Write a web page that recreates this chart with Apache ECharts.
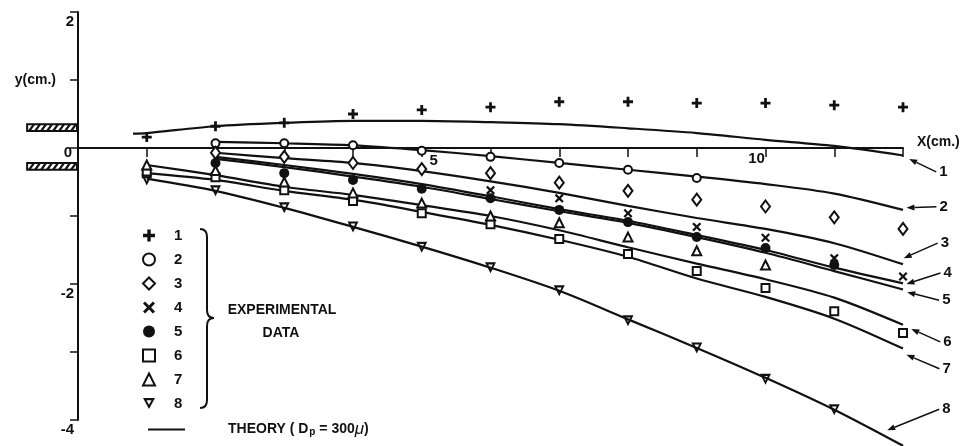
<!DOCTYPE html>
<html>
<head>
<meta charset="utf-8">
<script src="https://cdn.jsdelivr.net/npm/echarts@6/dist/echarts.min.js"></script>
<style>
  html, body { margin: 0; background: #fff; }
  #chart { width: 966px; height: 446px; }
</style>
</head>
<body>
<div id="chart"></div>
<script>
// x stations (cm) of the measured points
const xCm = [1, 2, 3, 4, 5, 6, 7, 8, 9, 10, 11, 12];
// experimental data, y (cm)
const exp1 = [0.16, 0.32, 0.37, 0.50, 0.56, 0.60, 0.68, 0.68, 0.66, 0.66, 0.63, 0.60];
const exp2 = [null, 0.07, 0.07, 0.04, -0.04, -0.13, -0.22, -0.32, -0.44, null, null, null];
const exp3 = [null, -0.07, -0.13, -0.22, -0.31, -0.37, -0.51, -0.63, -0.76, -0.86, -1.02, -1.19];
const exp4 = [null, null, null, null, null, -0.62, -0.74, -0.96, -1.16, -1.32, -1.62, -1.89];
const exp5 = [null, -0.22, -0.37, -0.47, -0.60, -0.74, -0.91, -1.09, -1.31, -1.47, -1.72, null];
const exp6 = [-0.37, -0.43, -0.62, -0.78, -0.96, -1.12, -1.34, -1.56, -1.81, -2.06, -2.40, -2.72];
const exp7 = [-0.25, -0.33, -0.50, -0.66, -0.81, -1.00, -1.10, -1.31, -1.51, -1.72, null, null];
const exp8 = [-0.47, -0.63, -0.88, -1.16, -1.46, -1.76, -2.10, -2.54, -2.94, -3.40, -3.85, null];

// theory curves (Dp = 300 micron)
const xTheory = [0.8, 1, 2, 3, 4, 5, 6, 7, 8, 9, 10, 11, 12];
const theory1 = [0.21, 0.22, 0.32, 0.37, 0.40, 0.40, 0.38, 0.35, 0.29, 0.22, 0.12, 0.03, -0.11];
const theory2 = [null, null, 0.09, 0.07, 0.04, -0.03, -0.12, -0.22, -0.32, -0.42, -0.53, -0.67, -0.91];
const theory3 = [null, null, -0.07, -0.15, -0.22, -0.34, -0.49, -0.66, -0.85, -1.03, -1.19, -1.40, -1.71];
const theory4 = [null, null, -0.13, -0.25, -0.38, -0.53, -0.71, -0.90, -1.07, -1.28, -1.50, -1.76, -1.99];
const theory5 = [null, null, -0.16, -0.28, -0.42, -0.57, -0.75, -0.93, -1.10, -1.31, -1.54, -1.81, -2.08];
const theory6 = [null, -0.25, -0.40, -0.57, -0.69, -0.84, -1.00, -1.21, -1.46, -1.70, -1.93, -2.20, -2.60];
const theory7 = [null, -0.37, -0.47, -0.63, -0.76, -0.94, -1.13, -1.35, -1.60, -1.92, -2.19, -2.51, -2.95];
const theory8 = [null, -0.45, -0.63, -0.88, -1.16, -1.45, -1.76, -2.10, -2.52, -2.94, -3.38, -3.85, -4.38];

const seriesNames = ['1', '2', '3', '4', '5', '6', '7', '8'];
const xTickLabels = [5, 10];

// curve labels on the right: arrow tip (cm) and tail offset (px)
const arrowTipX = [12.09, 12.05, 12.01, 12.05, 12.06, 12.12, 12.05, 11.77];
const arrowTipY = [-0.16, -0.88, -1.62, -2.00, -2.12, -2.66, -3.04, -4.15];
const arrowDx = [27, 30, 34, 34, 32, 29, 33, 52];
const arrowDy = [13, -1, -15, -11, 8, 13, 14, -21];

const INK = '#111';
const FONT = '"Liberation Sans", Arial, sans-serif';

const PLUS = 'path://M-1.4,-5 L1.4,-5 L1.4,-1.4 L5,-1.4 L5,1.4 L1.4,1.4 L1.4,5 L-1.4,5 L-1.4,1.4 L-5,1.4 L-5,-1.4 L-1.4,-1.4 Z';
const CROSS = 'path://M-4,-2.6 L-2.6,-4 L0,-1.4 L2.6,-4 L4,-2.6 L1.4,0 L4,2.6 L2.6,4 L0,1.4 L-2.6,4 L-4,2.6 L-1.4,0 Z';
// hollow downward triangle (inner contour wound the other way)
const DOWN_TRI = 'path://M-5,-4 L5,-4 L0,5 Z M-2.1,-2.2 L0,1.6 L2.1,-2.2 Z';

const expData = [exp1, exp2, exp3, exp4, exp5, exp6, exp7, exp8];
const theoryData = [theory1, theory2, theory3, theory4, theory5, theory6, theory7, theory8];
const symbols = [
  { symbol: PLUS, size: 10, border: 0 },
  { symbol: 'emptyCircle', size: 8, border: 2 },
  { symbol: 'emptyDiamond', size: [9, 12], border: 2 },
  { symbol: CROSS, size: 9, border: 0 },
  { symbol: 'circle', size: 10, border: 0 },
  { symbol: 'emptyRect', size: 8, border: 2 },
  { symbol: 'emptyTriangle', size: 9, border: 2 },
  { symbol: DOWN_TRI, size: 11, border: 0 }
];

function pairs(xs, ys) {
  return xs.map((x, i) => [x, ys[i]]).filter(p => p[1] !== null);
}

const series = [];
theoryData.forEach((ys) => {
  series.push({
    name: 'THEORY',
    type: 'line',
    data: pairs(xTheory, ys),
    smooth: 0.3,
    symbol: 'none',
    clip: false,
    lineStyle: { color: INK, width: 2.2 },
    itemStyle: { color: INK },
    silent: true,
    z: 2
  });
});
expData.forEach((ys, i) => {
  const s = symbols[i];
  series.push({
    name: seriesNames[i],
    type: 'scatter',
    data: pairs(xCm, ys),
    symbol: s.symbol,
    symbolSize: s.size,
    itemStyle: { color: INK, borderColor: INK, borderWidth: s.border, opacity: 1 },
    z: 5
  });
});

const chart = echarts.init(document.getElementById('chart'), null, { renderer: 'canvas' });

chart.setOption({
  animation: false,
  backgroundColor: '#fff',
  textStyle: { fontFamily: FONT },
  grid: { left: 78, right: 63, top: 12, bottom: 26, containLabel: false },
  xAxis: {
    type: 'value', min: 0, max: 12, interval: 1,
    axisLine: { onZero: true, lineStyle: { color: INK, width: 2 } },
    axisTick: { show: true, length: 9, lineStyle: { color: INK, width: 1.5 } },
    splitLine: { show: false },
    axisLabel: { show: false }
  },
  yAxis: {
    type: 'value', min: -4, max: 2, interval: 1,
    axisLine: { show: true, lineStyle: { color: INK, width: 2 } },
    axisTick: { show: true, length: 8, lineStyle: { color: INK, width: 1.5 } },
    splitLine: { show: false },
    axisLabel: {
      margin: 4, color: INK, fontSize: 15, fontWeight: 'bold', fontFamily: FONT,
      formatter: v => v === 1 ? '{n|y(cm.)}' : (v === 0 ? '{z|0}' : (v % 2 === 0 ? '{v|' + v + '}' : '')),
      rich: {
        v: { padding: [20, 0, 0, 0], fontSize: 15, fontWeight: 'bold', color: INK, fontFamily: FONT },
        z: { padding: [10, 2, 0, 0], fontSize: 15, fontWeight: 'bold', color: INK, fontFamily: FONT },
        n: { padding: [0, 18, 0, 0], fontSize: 14, fontWeight: 'bold', color: INK, fontFamily: FONT }
      }
    }
  },
  legend: [
    {
      data: seriesNames,
      orient: 'vertical',
      left: 137, top: 223,
      itemWidth: 12, itemHeight: 12, itemGap: 9,
      selectedMode: false,
      textStyle: { color: INK, fontSize: 15, fontWeight: 'bold', fontFamily: FONT, padding: [0, 0, 0, 14], lineHeight: 12 }
    },
    {
      data: [{ name: 'THEORY', icon: 'rect' }],
      orient: 'horizontal',
      left: 143, top: 416,
      itemWidth: 37, itemHeight: 2,
      selectedMode: false,
      formatter: () => '{a|THEORY ( D}{s|p}{a| = 300}{m|\u03bc}{a|)}',
      textStyle: {
        color: INK, padding: [0, 0, 0, 38],
        rich: {
          a: { fontSize: 14, fontWeight: 'bold', color: INK, fontFamily: FONT },
          s: { fontSize: 10, fontWeight: 'bold', color: INK, fontFamily: FONT, padding: [6, 0, 0, 1] },
          m: { fontSize: 17, fontStyle: 'italic', color: INK, fontFamily: FONT }
        }
      }
    }
  ],
  series: series
});

// annotations placed from axis coordinates
function px(x, y) { return chart.convertToPixel({ gridIndex: 0 }, [x, y]); }

const graphics = [];
const boldText = (x, y, text, size, align) => ({
  type: 'text', x: x, y: y, z: 10,
  style: { text: text, fill: INK, font: 'bold ' + size + 'px ' + FONT, textAlign: align || 'center', textVerticalAlign: 'middle' }
});

// x tick labels sit next to the zero line
const p5 = px(xTickLabels[0], 0), p10 = px(xTickLabels[1], 0);
graphics.push(boldText(p5[0] + 12, p5[1] + 13, String(xTickLabels[0]), 15));
graphics.push(boldText(p10[0] - 9, p10[1] + 11, String(xTickLabels[1]), 15));
const pEnd = px(12, 0);
graphics.push(boldText(pEnd[0] + 14, pEnd[1] - 6, 'X(cm.)', 14, 'left'));

// nozzle walls (hatched)
function wall(y0, y1) {
  const a = px(-0.74, y0), b = px(0, y1);
  const x0 = a[0], top = a[1], x1 = b[0] - 1, bot = b[1];
  graphics.push({ type: 'rect', shape: { x: x0, y: top, width: x1 - x0, height: bot - top },
    style: { fill: '#fff', stroke: INK, lineWidth: 2 }, z: 10 });
  for (let x = x0 + 2; x < x1 - 4; x += 6) {
    graphics.push({ type: 'line', shape: { x1: x, y1: bot, x2: x + 5, y2: top },
      style: { stroke: INK, lineWidth: 2.2 }, z: 10 });
  }
}
wall(0.35, 0.25);
wall(-0.22, -0.32);

// arrows to the curves
seriesNames.forEach((n, i) => {
  const tip = px(arrowTipX[i], arrowTipY[i]);
  const tail = [tip[0] + arrowDx[i], tip[1] + arrowDy[i]];
  const ang = Math.atan2(tip[1] - tail[1], tip[0] - tail[0]);
  const L = 8, W = 3;
  const bx = tip[0] - L * Math.cos(ang), by = tip[1] - L * Math.sin(ang);
  const nx = -Math.sin(ang) * W, ny = Math.cos(ang) * W;
  graphics.push({ type: 'line', shape: { x1: tail[0], y1: tail[1], x2: bx, y2: by },
    style: { stroke: INK, lineWidth: 1.5 }, z: 10 });
  graphics.push({ type: 'polygon', shape: { points: [tip, [bx + nx, by + ny], [bx - nx, by - ny]] },
    style: { fill: INK }, z: 10 });
  graphics.push(boldText(tail[0] + 3, tail[1], n, 15, 'left'));
});

// brace and caption of the experimental legend
const braceStyle = { stroke: INK, lineWidth: 2, fill: 'none' };
graphics.push({ type: 'bezierCurve', shape: { x1: 200, y1: 229, cpx1: 207, cpy1: 229, x2: 207, y2: 237 }, style: braceStyle });
graphics.push({ type: 'line', shape: { x1: 207, y1: 237, x2: 207, y2: 310 }, style: braceStyle });
graphics.push({ type: 'bezierCurve', shape: { x1: 207, y1: 310, cpx1: 207, cpy1: 318, x2: 214, y2: 318 }, style: braceStyle });
graphics.push({ type: 'bezierCurve', shape: { x1: 214, y1: 318, cpx1: 207, cpy1: 318, x2: 207, y2: 326 }, style: braceStyle });
graphics.push({ type: 'line', shape: { x1: 207, y1: 326, x2: 207, y2: 400 }, style: braceStyle });
graphics.push({ type: 'bezierCurve', shape: { x1: 207, y1: 400, cpx1: 207, cpy1: 408, x2: 200, y2: 408 }, style: braceStyle });
graphics.push(boldText(282, 310, 'EXPERIMENTAL', 14));
graphics.push(boldText(281, 333, 'DATA', 14));

chart.setOption({ graphic: graphics });
</script>
</body>
</html>
